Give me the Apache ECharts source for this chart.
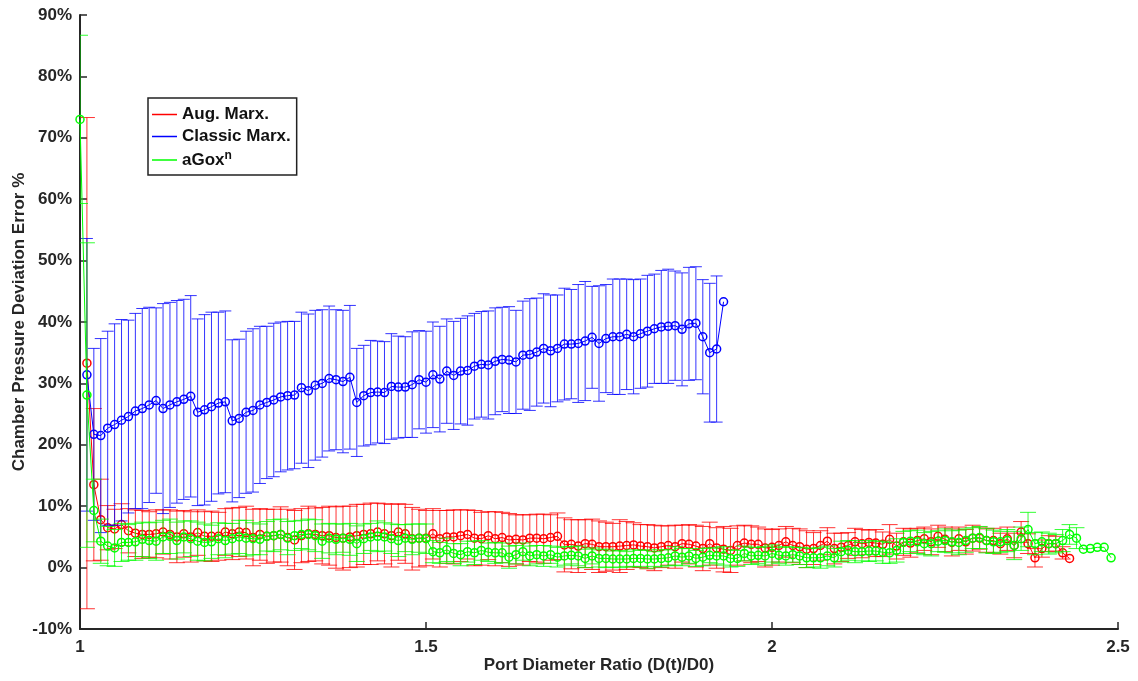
<!DOCTYPE html>
<html>
<head>
<meta charset="utf-8">
<script src="https://cdn.jsdelivr.net/npm/echarts@6/dist/echarts.min.js"></script>
<style>
  html, body { margin: 0; padding: 0; background: #fff; }
  #chart { width: 1138px; height: 681px; }
</style>
</head>
<body>
<div id="chart"></div>
<script>
// port diameter ratio D(t)/D0 for each sample
var ratio = [
  1.00, 1.01, 1.02, 1.03, 1.04, 1.05, 1.06, 1.07, 1.08, 1.09,
  1.10, 1.11, 1.12, 1.13, 1.14, 1.15, 1.16, 1.17, 1.18, 1.19,
  1.20, 1.21, 1.22, 1.23, 1.24, 1.25, 1.26, 1.27, 1.28, 1.29,
  1.30, 1.31, 1.32, 1.33, 1.34, 1.35, 1.36, 1.37, 1.38, 1.39,
  1.40, 1.41, 1.42, 1.43, 1.44, 1.45, 1.46, 1.47, 1.48, 1.49,
  1.50, 1.51, 1.52, 1.53, 1.54, 1.55, 1.56, 1.57, 1.58, 1.59,
  1.60, 1.61, 1.62, 1.63, 1.64, 1.65, 1.66, 1.67, 1.68, 1.69,
  1.70, 1.71, 1.72, 1.73, 1.74, 1.75, 1.76, 1.77, 1.78, 1.79,
  1.80, 1.81, 1.82, 1.83, 1.84, 1.85, 1.86, 1.87, 1.88, 1.89,
  1.90, 1.91, 1.92, 1.93, 1.94, 1.95, 1.96, 1.97, 1.98, 1.99,
  2.00, 2.01, 2.02, 2.03, 2.04, 2.05, 2.06, 2.07, 2.08, 2.09,
  2.10, 2.11, 2.12, 2.13, 2.14, 2.15, 2.16, 2.17, 2.18, 2.19,
  2.20, 2.21, 2.22, 2.23, 2.24, 2.25, 2.26, 2.27, 2.28, 2.29,
  2.30, 2.31, 2.32, 2.33, 2.34, 2.35, 2.36, 2.37, 2.38, 2.39,
  2.40, 2.41, 2.42, 2.43, 2.44, 2.45, 2.46, 2.47, 2.48, 2.49
];

// Aug. Marx. (starts at ratio[1])
var augStart = 1;
var augMean = [
  33.3, 13.5, 7.8, 6.5, 6.3, 7.0, 6.0, 5.6, 5.4, 5.4,
  5.5, 5.8, 5.4, 5.0, 5.5, 5.0, 5.7, 5.1, 5.1, 5.1,
  5.8, 5.5, 5.8, 5.7, 4.9, 5.4, 5.1, 5.2, 5.4, 4.9,
  4.5, 5.2, 5.5, 5.4, 5.2, 5.2, 4.9, 4.8, 5.0, 5.2,
  5.4, 5.5, 5.8, 5.5, 5.2, 5.8, 5.5, 4.7, 4.8, 4.8,
  5.5, 4.7, 5.0, 5.0, 5.2, 5.4, 4.8, 4.7, 5.2, 4.7,
  4.9, 4.5, 4.6, 4.5, 4.8, 4.8, 4.7, 4.9, 5.1, 3.7,
  3.8, 3.5, 3.9, 3.8, 3.4, 3.4, 3.4, 3.5, 3.6, 3.7,
  3.5, 3.4, 3.2, 3.4, 3.6, 3.4, 3.9, 3.8, 3.5, 3.1,
  3.9, 3.2, 3.0, 2.8, 3.6, 4.0, 3.8, 3.8, 3.2, 3.3,
  3.6, 4.2, 3.6, 3.4, 3.0, 3.1, 3.6, 4.3, 3.1, 3.3,
  3.6, 4.2, 3.9, 4.1, 4.0, 3.8, 4.6, 3.5, 4.2, 4.0,
  4.4, 4.7, 4.2, 5.1, 4.6, 4.1, 4.7, 4.2, 4.8, 4.8,
  4.4, 4.4, 3.9, 4.7, 3.6, 5.8, 3.9, 1.6, 3.1, 3.9,
  3.9, 2.4, 1.5
];
var augErr = [
  40.0, 12.4, 6.6, 3.6, 3.2, 3.4, 3.6, 3.8, 3.9, 3.7,
  3.9, 3.6, 4.0, 4.2, 3.8, 4.1, 3.7, 4.0, 4.1, 3.9,
  3.8, 4.2, 4.0, 4.3, 4.6, 4.2, 4.4, 4.3, 4.5, 4.6,
  4.8, 4.4, 4.5, 4.3, 4.6, 4.8, 5.0, 5.2, 5.0, 5.1,
  4.9, 5.0, 4.7, 4.9, 5.1, 4.6, 4.8, 5.1, 4.7, 4.5,
  4.1, 4.6, 4.3, 4.4, 4.2, 4.0, 4.5, 4.3, 3.9, 4.4,
  4.1, 4.3, 4.0, 4.1, 3.8, 3.9, 4.0, 3.7, 3.8, 4.4,
  4.0, 4.3, 3.9, 4.1, 4.2, 4.0, 3.8, 4.3, 3.9, 3.6,
  3.5, 3.6, 3.7, 3.4, 3.2, 3.5, 3.0, 3.2, 3.4, 3.6,
  3.5, 3.3, 3.7, 3.6, 3.2, 2.9, 3.0, 2.8, 3.1, 2.9,
  2.7, 2.5, 2.8, 2.9, 3.0, 2.6, 2.4, 2.2, 2.5, 2.3,
  2.1, 2.2, 2.3, 2.0, 2.2, 2.0, 2.4, 2.1, 2.2, 2.3,
  2.0, 1.9, 2.1, 1.8, 2.0, 2.2, 1.9, 2.0, 2.1, 1.8,
  1.9, 2.0, 1.7, 1.9, 2.0, 1.7, 1.6, 1.5, 1.4, 1.3,
  1.2, 1.0, 0
];

// Classic Marx. (starts at ratio[1])
var classicStart = 1;
var classicMean = [
  31.4, 21.7, 21.5, 22.7, 23.3, 24.0, 24.6, 25.5, 25.9, 26.5,
  27.2, 25.9, 26.5, 27.0, 27.4, 27.9, 25.3, 25.7, 26.2, 26.8,
  27.0, 23.9, 24.3, 25.3, 25.6, 26.5, 26.9, 27.3, 27.8, 28.0,
  28.1, 29.3, 28.8, 29.7, 30.0, 30.8, 30.6, 30.3, 31.0, 26.9,
  28.0, 28.5, 28.6, 28.5, 29.5, 29.4, 29.4, 29.8, 30.6, 30.2,
  31.4, 30.7, 32.0, 31.3, 32.0, 32.1, 32.8, 33.1, 33.0, 33.6,
  33.9, 33.8, 33.5, 34.6, 34.7, 35.1, 35.7, 35.3, 35.7, 36.4,
  36.4, 36.5, 36.9, 37.5, 36.5, 37.3, 37.6, 37.6, 38.0, 37.6,
  38.1, 38.5, 38.9, 39.2, 39.3, 39.4, 38.8, 39.7, 39.8, 37.6,
  35.0, 35.6, 43.3
];
var classicErr = [
  22.2, 14.0, 15.8, 15.8, 16.4, 16.4, 15.7, 15.9, 16.3, 15.9,
  15.1, 17.1, 16.7, 16.5, 16.3, 16.4, 15.2, 15.5, 15.4, 14.8,
  14.8, 13.2, 12.9, 13.2, 13.3, 12.8, 12.4, 12.5, 12.2, 12.1,
  12.0, 12.3, 12.5, 12.2, 12.0, 11.8, 11.4, 11.6, 11.7, 8.8,
  8.2, 8.5, 8.3, 8.3, 8.6, 8.3, 8.2, 8.6, 8.0, 8.3,
  8.6, 8.6, 8.5, 8.8, 8.6, 8.9, 8.6, 8.6, 8.8, 8.7,
  8.5, 8.7, 8.4, 8.8, 9.1, 8.8, 8.9, 9.1, 8.7, 9.1,
  8.9, 9.6, 9.7, 8.3, 9.4, 8.8, 9.4, 9.4, 9.0, 9.3,
  8.9, 9.1, 8.9, 9.2, 9.3, 8.9, 9.2, 9.2, 9.2, 9.3,
  11.3, 11.9, 0
];

// aGox^n (starts at ratio[0])
var gStart = 0;
var gMean = [
  73.0, 28.1, 9.3, 4.3, 3.5, 3.2, 4.1, 4.1, 4.2, 4.6,
  4.4, 4.3, 5.0, 5.1, 4.4, 5.0, 4.7, 4.3, 4.1, 4.2,
  4.7, 4.4, 4.7, 5.0, 4.8, 4.7, 4.6, 5.1, 5.2, 5.4,
  4.8, 5.2, 5.4, 5.4, 5.2, 4.3, 4.8, 4.6, 4.8, 4.6,
  3.9, 4.7, 5.0, 5.1, 5.0, 4.7, 4.4, 4.8, 4.6, 4.8,
  4.7, 2.6, 2.4, 2.9, 2.3, 2.1, 2.6, 2.4, 2.8, 2.5,
  2.4, 2.4, 1.7, 2.1, 2.6, 1.9, 2.1, 1.9, 2.1, 1.7,
  1.9, 2.0, 1.9, 1.5, 1.9, 1.5, 1.5, 1.4, 1.4, 1.4,
  1.5, 1.5, 1.4, 1.4, 1.5, 1.6, 1.9, 1.7, 1.9, 1.5,
  1.7, 2.0, 1.9, 1.9, 1.5, 1.5, 2.3, 1.9, 2.0, 1.9,
  2.3, 2.0, 1.9, 2.1, 1.9, 1.6, 1.6, 1.6, 1.9, 1.6,
  2.6, 2.8, 2.6, 2.6, 2.7, 2.7, 2.5, 2.4, 2.8, 4.1,
  4.3, 4.2, 3.9, 3.9, 4.3, 4.4, 4.2, 4.1, 4.4, 4.8,
  4.9, 4.4, 4.2, 4.2, 4.4, 3.6, 4.7, 6.2, 3.9, 4.2,
  3.9, 3.9, 4.4, 5.4, 4.8, 3.0, 3.1, 3.3, 3.3, 1.6
];
var gErr = [
  13.7, 24.8, 5.1, 3.6, 3.2, 3.0, 3.1, 2.9, 3.0, 2.8,
  2.9, 3.1, 2.7, 2.8, 3.0, 2.6, 2.9, 3.1, 3.0, 2.7,
  2.6, 2.8, 2.5, 2.7, 2.9, 2.6, 2.5, 2.4, 2.6, 2.5,
  2.7, 2.4, 2.3, 2.5, 2.6, 2.8, 2.4, 2.5, 2.3, 2.6,
  2.9, 2.4, 2.2, 2.5, 2.3, 2.4, 2.6, 2.2, 2.5, 2.3,
  2.4, 1.8, 1.7, 1.9, 1.6, 1.8, 1.7, 1.9, 1.6, 1.5,
  1.7, 1.6, 1.8, 1.5, 1.4, 1.6, 1.5, 1.7, 1.4, 1.6,
  1.5, 1.4, 1.6, 1.5, 1.3, 1.4, 1.5, 1.3, 1.4, 1.2,
  1.4, 1.3, 1.5, 1.2, 1.4, 1.3, 1.5, 1.4, 1.2, 1.3,
  1.4, 1.2, 1.3, 1.5, 1.4, 1.3, 1.2, 1.4, 1.3, 1.5,
  1.4, 1.3, 1.5, 1.2, 1.4, 1.6, 1.5, 1.7, 1.6, 1.5,
  1.7, 1.6, 1.8, 1.5, 1.7, 1.6, 1.8, 1.7, 1.9, 1.8,
  1.7, 1.9, 1.8, 2.0, 1.7, 1.9, 1.8, 2.0, 1.9, 1.7,
  1.8, 2.0, 1.9, 1.7, 1.8, 2.3, 1.9, 2.8, 1.8, 1.6,
  1.7, 1.5, 1.8, 1.6, 1.7, 0, 0, 0, 0, 0
];

var yTicks = { min: -10, max: 90, step: 10 };
var xTicks = { min: 1, max: 2.5, step: 0.5 };

var FONT = '"Liberation Sans", Arial, Helvetica, sans-serif';

function points(start, mean) {
  return mean.map(function (v, i) { return [ratio[start + i], v]; });
}
function bars(start, mean, err) {
  var out = [];
  mean.forEach(function (v, i) {
    if (err[i] > 0) out.push([ratio[start + i], v - err[i], v + err[i]]);
  });
  return out;
}

function errorSeries(name, data, color, capHalf, z) {
  return {
    name: name,
    type: 'custom',
    clip: true,
    z: z,
    silent: true,
    data: data,
    renderItem: function (params, api) {
      var x = api.value(0);
      var top = api.coord([x, api.value(2)]);
      var bot = api.coord([x, api.value(1)]);
      var st = { stroke: color, lineWidth: 1, opacity: 0.8 };
      return {
        type: 'group',
        children: [
          { type: 'line', shape: { x1: top[0], y1: top[1], x2: bot[0], y2: bot[1] }, style: st },
          { type: 'line', shape: { x1: top[0] - capHalf, y1: top[1], x2: top[0] + capHalf, y2: top[1] }, style: st },
          { type: 'line', shape: { x1: bot[0] - capHalf, y1: bot[1], x2: bot[0] + capHalf, y2: bot[1] }, style: st }
        ]
      };
    }
  };
}

function lineSeries(name, data, color, z) {
  return {
    name: name,
    type: 'line',
    z: z,
    data: data,
    showSymbol: true,
    showAllSymbol: true,
    symbol: 'circle',
    symbolSize: 8,
    itemStyle: { color: 'rgba(255,255,255,0)', borderColor: color, borderWidth: 1.5 },
    lineStyle: { color: color, width: 1 },
    emphasis: { disabled: true }
  };
}

var chart = echarts.init(document.getElementById('chart'));
chart.setOption({
  animation: false,
  backgroundColor: '#fff',
  grid: { left: 80, right: 20, top: 15, bottom: 52, containLabel: false, outerBoundsMode: 'none' },
  legend: {
    orient: 'vertical',
    left: 148,
    top: 98,
    padding: [8, 6, 6, 4],
    itemGap: 5,
    itemWidth: 25,
    itemHeight: 1.5,
    backgroundColor: '#fff',
    borderColor: '#222',
    borderWidth: 1.5,
    borderRadius: 0,
    selectedMode: false,
    data: [
      { name: 'Aug. Marx.', icon: 'rect', itemStyle: { color: '#ff0000', borderWidth: 0 } },
      { name: 'Classic Marx.', icon: 'rect', itemStyle: { color: '#0000ff', borderWidth: 0 } },
      { name: 'aGox^n', icon: 'rect', itemStyle: { color: '#00ff00', borderWidth: 0 } }
    ],
    formatter: function (name) {
      if (name === 'aGox^n') return '{t|aGox}{s|n}';
      return '{t|' + name + '}';
    },
    textStyle: {
      fontFamily: FONT,
      rich: {
        t: { fontFamily: FONT, fontSize: 17, fontWeight: 'bold', color: '#111', lineHeight: 20 },
        s: { fontFamily: FONT, fontSize: 12, fontWeight: 'bold', color: '#111', verticalAlign: 'top', lineHeight: 13, padding: [0, 0, 7, 0] }
      }
    }
  },
  xAxis: {
    type: 'value',
    min: xTicks.min,
    max: xTicks.max,
    interval: xTicks.step,
    name: 'Port Diameter Ratio (D(t)/D0)',
    nameLocation: 'middle',
    nameGap: 28,
    nameMoveOverlap: false,
    nameTextStyle: { fontFamily: FONT, fontSize: 17, fontWeight: 'bold', color: '#262626' },
    axisLine: { onZero: false, lineStyle: { color: '#262626', width: 2 } },
    axisTick: { inside: true, length: 7, lineStyle: { color: '#262626', width: 1.5 } },
    axisLabel: { fontFamily: FONT, fontSize: 17, fontWeight: 'bold', color: '#262626', margin: 10 },
    splitLine: { show: false }
  },
  yAxis: {
    type: 'value',
    min: yTicks.min,
    max: yTicks.max,
    interval: yTicks.step,
    name: 'Chamber Pressure Deviation Error %',
    nameLocation: 'middle',
    nameGap: 52,
    nameMoveOverlap: false,
    nameTextStyle: { fontFamily: FONT, fontSize: 17, fontWeight: 'bold', color: '#262626' },
    axisLine: { show: true, lineStyle: { color: '#262626', width: 2 } },
    axisTick: { show: true, inside: true, length: 7, lineStyle: { color: '#262626', width: 1.5 } },
    axisLabel: { fontFamily: FONT, fontSize: 17, fontWeight: 'bold', color: '#262626', margin: 8, formatter: '{value}%' },
    splitLine: { show: false }
  },
  series: [
    errorSeries('Aug. Marx.', bars(augStart, augMean, augErr), '#ff0000', 8, 1),
    lineSeries('Aug. Marx.', points(augStart, augMean), '#ff0000', 2),
    errorSeries('Classic Marx.', bars(classicStart, classicMean, classicErr), '#0000ff', 6, 3),
    lineSeries('Classic Marx.', points(classicStart, classicMean), '#0000ff', 4),
    errorSeries('aGox^n', bars(gStart, gMean, gErr), '#00ff00', 8, 5),
    lineSeries('aGox^n', points(gStart, gMean), '#00ff00', 6)
  ]
});
</script>
</body>
</html>
